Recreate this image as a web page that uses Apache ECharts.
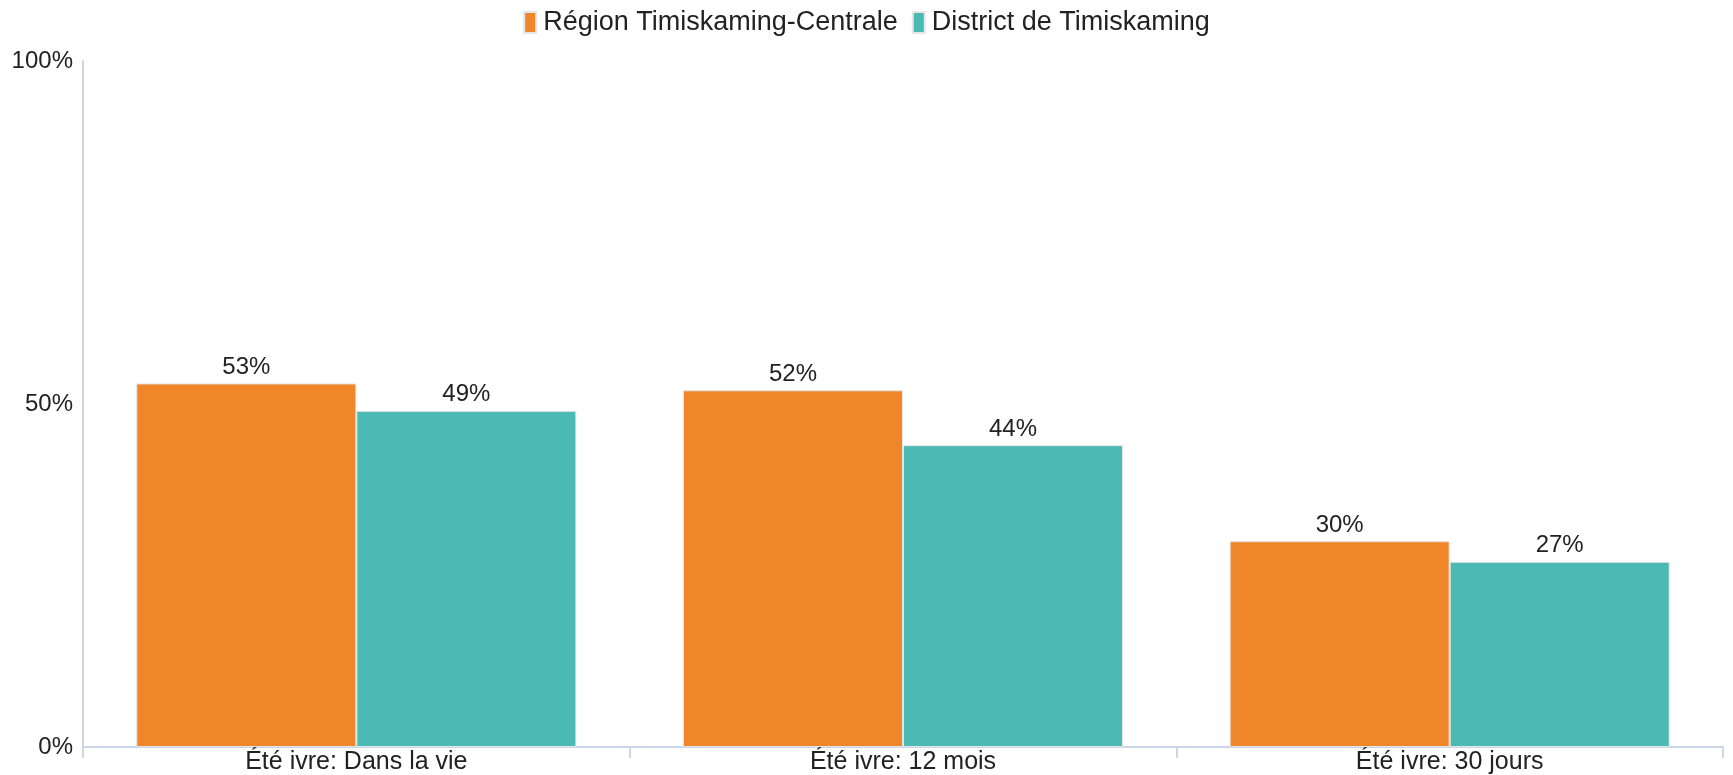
<!DOCTYPE html>
<html>
<head>
<meta charset="utf-8">
<script src="https://cdn.jsdelivr.net/npm/echarts@6/dist/echarts.min.js"></script>
<style>
html,body{margin:0;padding:0;background:#fff;}
#c{width:1733px;height:775px;}
</style>
</head>
<body>
<div id="c"></div>
<script>
var categories = ["Été ivre: Dans la vie", "Été ivre: 12 mois", "Été ivre: 30 jours"];
var seriesNames = ["Région Timiskaming-Centrale", "District de Timiskaming"];
var regionValues = [53, 52, 30];
var districtValues = [49, 44, 27];
var yTicks = [0, 50, 100];

var FONT = '"Liberation Sans", Arial, sans-serif';
var chart = echarts.init(document.getElementById('c'));
chart.setOption({
  animation: false,
  textStyle: {fontFamily: FONT},
  legend: {
    top: 4, left: 'center',
    itemWidth: 12, itemHeight: 21, itemGap: 14,
    icon: 'rect',
    textStyle: {fontSize: 27, color: '#222', fontFamily: FONT, padding: [0, 0, 0, 2]},
    data: seriesNames
  },
  grid: {left: 83, right: 10, top: 61, bottom: 19, containLabel: false},
  xAxis: {
    type: 'category',
    data: categories,
    axisLine: {show: true, lineStyle: {color: '#ccd6eb', width: 2}},
    axisTick: {show: true, length: 11, lineStyle: {color: '#ccd6eb', width: 2}},
    axisLabel: {fontSize: 25, color: '#222', margin: 3, fontFamily: FONT}
  },
  yAxis: {
    type: 'value',
    min: 0, max: 100, interval: 50,
    axisLine: {show: true, lineStyle: {color: '#ccd6eb', width: 2}},
    axisTick: {show: false},
    splitLine: {show: false},
    axisLabel: {
      fontSize: 24, color: '#222', margin: 10, fontFamily: FONT,
      formatter: function (v) { return yTicks.indexOf(v) >= 0 ? v + '%' : ''; }
    }
  },
  series: [
    {
      name: seriesNames[0], type: 'bar', data: regionValues,
      barGap: '0%', barCategoryGap: '19.5%',
      itemStyle: {color: '#F0862A', borderColor: '#e6e6e6', borderWidth: 1},
      label: {show: true, position: 'top', distance: 4, fontSize: 24, color: '#222', fontFamily: FONT, formatter: '{c}%'}
    },
    {
      name: seriesNames[1], type: 'bar', data: districtValues,
      barGap: '0%', barCategoryGap: '19.5%',
      itemStyle: {color: '#4BBAB5', borderColor: '#e6e6e6', borderWidth: 1},
      label: {show: true, position: 'top', distance: 4, fontSize: 24, color: '#222', fontFamily: FONT, formatter: '{c}%'}
    }
  ]
});
</script>
</body>
</html>
